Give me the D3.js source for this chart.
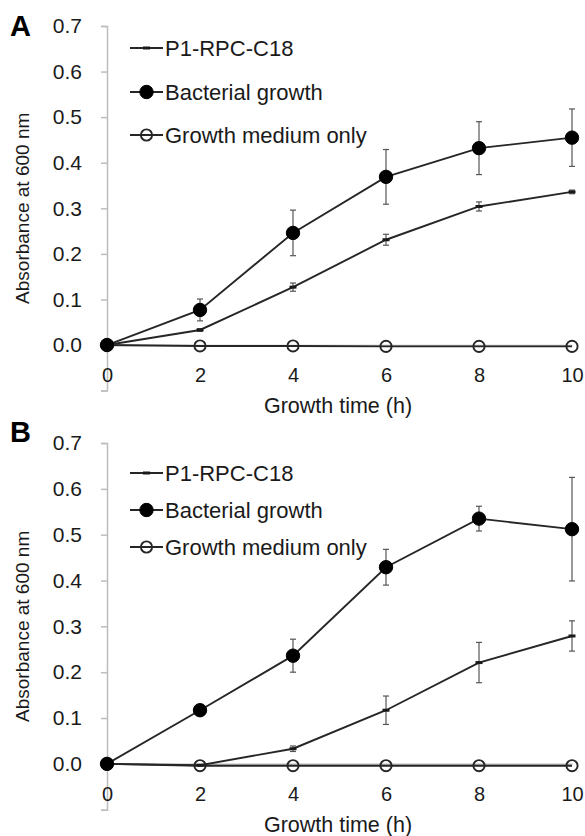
<!DOCTYPE html>
<html>
  <head>
    <meta charset="utf-8">
    <script src="https://d3js.org/d3.v7.min.js"></script>
    <style>
      body { margin: 0; background: #fff; }
      text { font-family: "Liberation Sans", Arial, sans-serif; fill: #1a1a1a; }
    </style>
  </head>
<body>
  <script type="text/javascript">
    "use strict";
    /* values */
    var hours = [0, 2, 4, 6, 8, 10];
    var seriesNames = ["P1-RPC-C18", "Bacterial growth", "Growth medium only"];
    var yTicks = [0, 0.1, 0.2, 0.3, 0.4, 0.5, 0.6, 0.7];

    var aP1 = [0, 0.033, 0.127, 0.231, 0.304, 0.336];
    var aP1Err = [0, 0.003, 0.009, 0.012, 0.010, 0.004];
    var aBact = [0, 0.077, 0.246, 0.369, 0.432, 0.455];
    var aBactErr = [0, 0.024, 0.050, 0.060, 0.058, 0.063];
    var aMedium = [0, -0.002, -0.002, -0.003, -0.003, -0.003];

    var bP1 = [0, -0.003, 0.033, 0.117, 0.221, 0.279];
    var bP1Err = [0, 0, 0.006, 0.031, 0.044, 0.033];
    var bBact = [0, 0.117, 0.236, 0.429, 0.535, 0.512];
    var bBactErr = [0, 0.003, 0.036, 0.039, 0.027, 0.113];
    var bMedium = [0, -0.004, -0.004, -0.004, -0.004, -0.004];

    var svg = d3.select("body").append("svg")
        .attr("width", 585)
        .attr("height", 836);

    function drawPanel(p) {
      var x = d3.scaleLinear().domain([0, 10]).range([107, 572]);
      var y = d3.scaleLinear().domain([-0.1, 0.7]).range([p.bottom, p.top]);
      var g = svg.append("g");

      // panel letter
      g.append("text")
          .attr("x", 10).attr("y", p.letterY)
          .style("font-weight", "bold").style("font-size", "29px")
          .style("fill", "#000")
          .text(p.letter);

      // y axis (gray, ticks on the left, runs down to -0.1)
      var yAxis = d3.axisLeft(y).tickValues(yTicks.concat([-0.1]))
          .tickSize(6).tickFormat(function(d) { return d < 0 ? "" : d3.format(".1f")(d); });
      var ya = g.append("g").attr("transform", "translate(107,0)").call(yAxis);
      ya.select(".domain").attr("stroke", "#bdbdbd").attr("stroke-width", 1.5);
      ya.selectAll(".tick line").attr("stroke", "#bdbdbd").attr("stroke-width", 1.5);
      ya.selectAll(".tick text").attr("x", -25)
          .style("font-size", "21px").style("font-family", "Liberation Sans, Arial, sans-serif")
          .attr("fill", "#1a1a1a");

      // x axis at zero
      var xAxis = d3.axisBottom(x).tickValues(hours).tickSize(0);
      var xa = g.append("g").attr("transform", "translate(0," + y(0) + ")").call(xAxis);
      xa.select(".domain").attr("stroke", "#bdbdbd").attr("stroke-width", 1.5);
      xa.selectAll(".tick text").attr("y", 23)
          .style("font-size", "20px").style("font-family", "Liberation Sans, Arial, sans-serif")
          .attr("fill", "#1a1a1a");

      // axis titles
      g.append("text")
          .attr("transform", "translate(29," + y(0.3) + ") rotate(-90)")
          .attr("text-anchor", "middle").style("font-size", "19px")
          .text("Absorbance at 600 nm");
      g.append("text")
          .attr("x", 338).attr("y", y(0) + 68)
          .attr("text-anchor", "middle").style("font-size", "21.5px")
          .text("Growth time (h)");

      var line = d3.line()
          .x(function(d, i) { return x(hours[i]); })
          .y(function(d) { return y(d); });

      var series = [
        { vals: p.p1, err: p.p1Err, marker: "dash" },
        { vals: p.bact, err: p.bactErr, marker: "filled" },
        { vals: p.medium, err: null, marker: "open" }
      ];

      // error bars
      series.forEach(function(s) {
        if (!s.err) return;
        var eg = g.append("g").attr("stroke", "#555").attr("stroke-width", 1.2);
        hours.forEach(function(h, i) {
          if (!s.err[i]) return;
          var cx = x(h), top = y(s.vals[i] + s.err[i]), bot = y(s.vals[i] - s.err[i]);
          eg.append("line").attr("x1", cx).attr("x2", cx).attr("y1", top).attr("y2", bot);
          eg.append("line").attr("x1", cx - 3).attr("x2", cx + 3).attr("y1", top).attr("y2", top);
          eg.append("line").attr("x1", cx - 3).attr("x2", cx + 3).attr("y1", bot).attr("y2", bot);
        });
      });

      // lines, drawn medium first so the others sit on top
      [series[2], series[0], series[1]].forEach(function(s) {
        g.append("path").datum(s.vals)
            .attr("d", line).attr("fill", "none")
            .attr("stroke", "#262626").attr("stroke-width", 1.9);
      });

      function marker(sel, type, cx, cy) {
        if (type === "dash") {
          sel.append("rect").attr("x", cx - 3.5).attr("y", cy - 1.5)
              .attr("width", 7).attr("height", 3).attr("fill", "#1a1a1a");
        } else if (type === "filled") {
          sel.append("circle").attr("cx", cx).attr("cy", cy).attr("r", 6.7)
              .attr("fill", "#000").attr("stroke", "#000");
        } else {
          sel.append("circle").attr("cx", cx).attr("cy", cy).attr("r", 5.6)
              .attr("fill", "none").attr("stroke", "#262626").attr("stroke-width", 1.9);
        }
      }

      [series[2], series[0], series[1]].forEach(function(s) {
        hours.forEach(function(h, i) { marker(g, s.marker, x(h), y(s.vals[i])); });
      });

      // legend
      series.forEach(function(s, i) {
        var ly = p.legendY[i];
        g.append("line").attr("x1", 130).attr("x2", 163).attr("y1", ly).attr("y2", ly)
            .attr("stroke", "#262626").attr("stroke-width", 1.9);
        marker(g, s.marker, 146.5, ly);
        g.append("text").attr("x", 165).attr("y", ly).attr("dy", "0.36em")
            .style("font-size", "22px")
            .text(seriesNames[i]);
      });
    }

    drawPanel({
      letter: "A", letterY: 36, top: 26, bottom: 390.6,
      legendY: [48, 92, 135],
      p1: aP1, p1Err: aP1Err, bact: aBact, bactErr: aBactErr, medium: aMedium
    });
    drawPanel({
      letter: "B", letterY: 442, top: 443, bottom: 809.7,
      legendY: [473, 510, 547],
      p1: bP1, p1Err: bP1Err, bact: bBact, bactErr: bBactErr, medium: bMedium
    });
  </script>
</body>
</html>
